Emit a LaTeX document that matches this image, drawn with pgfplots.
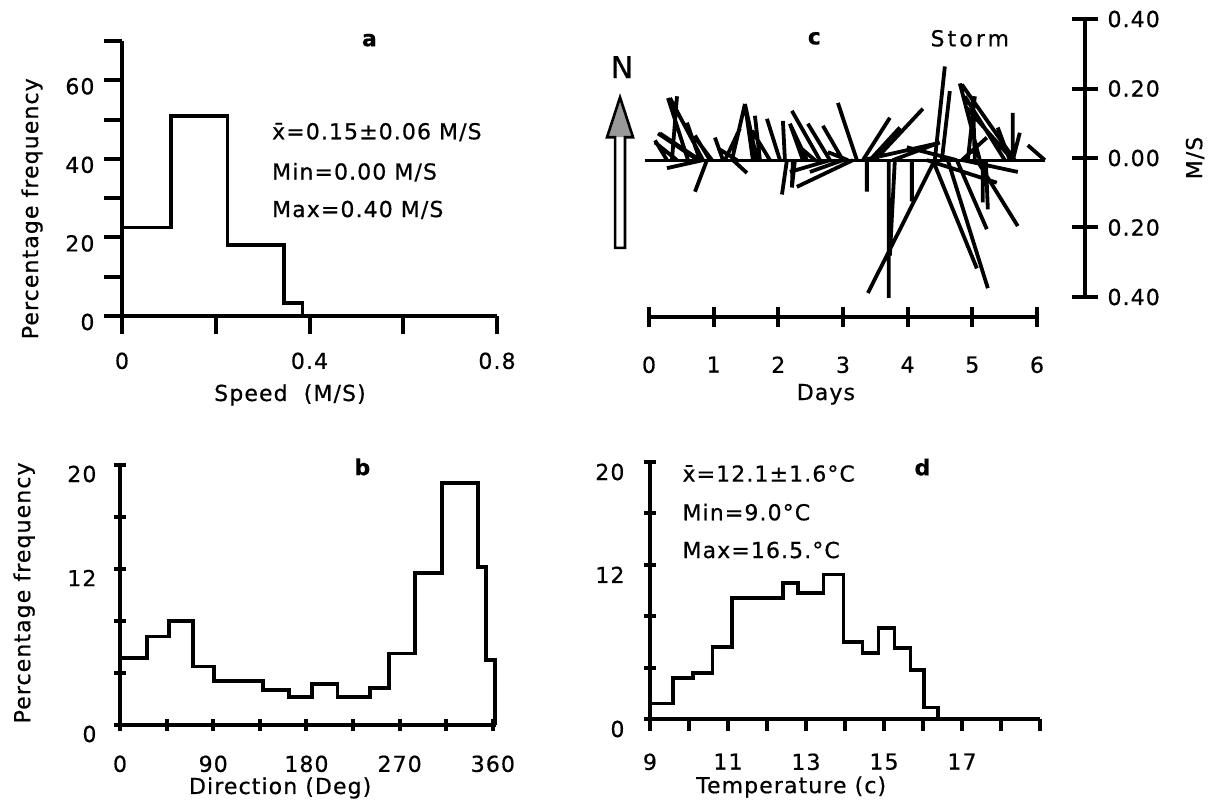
\documentclass[border=0pt]{standalone}
\usepackage{fontspec}
\setmainfont{DejaVu Sans}[LetterSpace=5, FakeBold=0.6]
\usepackage{pgfplots}
\pgfplotsset{compat=1.18}

% 1 px of the reference = 0.5pt
\pgfplotsset{
  panel/.style={
    scale only axis, anchor=south west, clip=false,
    line width=2.2pt,
    axis x line=bottom, axis y line=left,
    axis line style={-, line width=2.2pt},
    every outer x axis line/.append style={-},
    every outer y axis line/.append style={-},
    tick style={black, line width=2pt},
    /pgf/number format/assume math mode=true,
  },
  hist/.style={black, line width=1.9pt, const plot mark left},
}

\begin{document}
\fontsize{11}{13}\selectfont
\begin{tikzpicture}
\path[use as bounding box] (0,0) rectangle (605.5pt,401pt);

% ---- a: speed histogram
\begin{axis}[panel, at={(61pt,243pt)}, width=187.5pt, height=137.5pt,
  xmin=0, xmax=0.8, ymin=0, ymax=70,
  xtick={0,0.2,0.4,0.6,0.8}, xticklabels={0,,0.4,,0.8},
  ytick={0,10,...,70}, yticklabels={0,,20,,40,,60,},
  xtick align=outside, ytick align=outside, major tick length=9pt,
  xticklabel style={yshift=-4.5pt}, yticklabel style={yshift=-3pt},
  xlabel={Speed~~(M/S)},
  xlabel style={at={(axis description cs:0.448,-0.287)}, anchor=center},
  ylabel={Percentage frequency},
  ylabel style={at={(axis description cs:-0.24,0.39)}, anchor=center},
]
\addplot[hist] coordinates {(0,0) (0,22.5) (0.105,51) (0.225,18) (0.345,3.3) (0.385,0) (0.8,0)};
\node[anchor=west] at (axis cs:0.30,46.8) {\=x=0.15±0.06 M/S};
\node[anchor=west] at (axis cs:0.30,36.6) {Min=0.00 M/S};
\node[anchor=west] at (axis cs:0.30,27.0) {Max=0.40 M/S};
\node at (axis cs:0.529,70.2) {\textbf{a}};
\end{axis}

% ---- b: direction histogram
\begin{axis}[panel, at={(60pt,38.5pt)}, width=188pt, height=130pt,
  xmin=0, xmax=363, ymin=0, ymax=20,
  xtick={0,45,...,360}, xticklabels={0,,90,,180,,270,,360},
  ytick={0,4,...,20}, yticklabels={0,,,12,,20},
  xtick align=center, ytick align=center, major tick length=6pt,
  xticklabel style={yshift=-7.5pt}, yticklabel style={yshift=-4.5pt, xshift=-4pt},
  xlabel={Direction (Deg)},
  xlabel style={at={(axis description cs:0.426,-0.242)}, anchor=center},
  ylabel={Percentage frequency},
  ylabel style={at={(axis description cs:-0.255,0.508)}, anchor=center},
]
\addplot[hist] coordinates {(0,0) (0,5.15) (26,6.8) (47,8.0) (70.5,4.5) (91,3.4)
  (138,2.7) (163,2.15) (185,3.15) (210,2.15) (241,2.85) (260,5.5) (285,11.7)
  (311,18.6) (345.5,12.15) (353,5.0) (362,0)};
\node at (axis cs:234.5,19.85) {\textbf{b}};
\end{axis}

% ---- c: current vectors (stick plot)
\begin{axis}[panel, at={(324.5pt,242.5pt)}, width=194pt, height=156.5pt,
  xmin=0, xmax=6, ymin=-0.452, ymax=0.45,
  axis y line=none,
  xtick={0,...,6}, xticklabels={0,1,2,3,4,5,6},
  xtick align=center, major tick length=10pt,
  xticklabel style={yshift=-10pt},
  unbounded coords=jump,
  xlabel={Days},
  xlabel style={at={(axis description cs:0.456,-0.247)}, anchor=center},
]
\addplot[black, line width=1.5pt] coordinates {(-0.062,0) (6.121,0)};
\addplot[black, line width=1.9pt] table[row sep=\\] {
x y\\
0.278 0\\ 0.093 0.057\\ nan nan\\
0.788 0\\ 0.170 0.077\\ nan nan\\
0.757 0\\ 0.139 0.077\\ nan nan\\
0.433 0\\ 0.093 0.051\\ nan nan\\
0.603 0\\ 0.294 0.179\\ nan nan\\
0.835 0\\ 0.325 0.179\\ nan nan\\
0.355 0\\ 0.433 0.184\\ nan nan\\
0.788 0\\ 0.587 0.108\\ nan nan\\
0.943 0\\ 0.711 0.071\\ nan nan\\
0.974 0\\ 0.711 0.065\\ nan nan\\
0.835 0\\ 0.278 -0.023\\ nan nan\\
0.896 0\\ 0.711 -0.091\\ nan nan\\
1.144 0\\ 1.020 0.065\\ nan nan\\
1.283 0\\ 1.484 0.162\\ nan nan\\
1.669 0\\ 1.484 0.162\\ nan nan\\
1.607 0\\ 1.484 0.162\\ nan nan\\
1.298 0\\ 1.515 -0.037\\ nan nan\\
1.360 0\\ 1.066 0.034\\ nan nan\\
1.175 0\\ 1.406 0.091\\ nan nan\\
1.716 0\\ 1.638 0.128\\ nan nan\\
1.870 0\\ 1.592 0.085\\ nan nan\\
2.025 0\\ 1.824 0.119\\ nan nan\\
2.102 0\\ 2.071 0.113\\ nan nan\\
2.133 0\\ 2.056 -0.099\\ nan nan\\
2.643 0\\ 2.210 0.142\\ nan nan\\
2.442 0\\ 2.179 0.105\\ nan nan\\
2.380 0\\ 2.179 0.105\\ nan nan\\
2.798 0\\ 2.457 0.105\\ nan nan\\
2.998 0\\ 2.689 0.099\\ nan nan\\
2.257 0\\ 2.210 -0.079\\ nan nan\\
2.226 0\\ 2.210 -0.077\\ nan nan\\
3.153 0\\ 2.287 -0.077\\ nan nan\\
2.798 0\\ 2.179 -0.034\\ nan nan\\
2.998 0\\ 2.488 -0.034\\ nan nan\\
2.566 0\\ 2.334 0.037\\ nan nan\\
3.076 0\\ 2.767 0.023\\ nan nan\\
3.215 0\\ 2.921 0.165\\ nan nan\\
3.369 0\\ 3.369 -0.091\\ nan nan\\
3.308 0\\ 3.725 0.122\\ nan nan\\
3.308 0\\ 4.451 0.048\\ nan nan\\
3.709 0\\ 3.709 -0.397\\ nan nan\\
3.493 0\\ 4.235 0.148\\ nan nan\\
3.416 0\\ 3.879 0.094\\ nan nan\\
3.802 0\\ 3.725 -0.275\\ nan nan\\
3.771 0\\ 4.498 0.051\\ nan nan\\
4.065 0\\ 4.065 -0.119\\ nan nan\\
4.297 0\\ 5.379 -0.065\\ nan nan\\
4.420 0\\ 3.385 -0.383\\ nan nan\\
4.420 0\\ 4.575 0.270\\ nan nan\\
4.529 0\\ 4.652 0.199\\ nan nan\\
5.657 0\\ 4.838 0.218\\ nan nan\\
5.116 0\\ 4.807 0.221\\ nan nan\\
5.502 0\\ 4.884 0.184\\ nan nan\\
5.039 0\\ 5.008 0.184\\ nan nan\\
4.930 0\\ 5.039 0.184\\ nan nan\\
4.389 0\\ 5.070 -0.312\\ nan nan\\
4.621 0\\ 5.240 -0.369\\ nan nan\\
4.760 0\\ 5.224 -0.199\\ nan nan\\
5.070 0\\ 5.703 -0.190\\ nan nan\\
5.162 0\\ 5.162 -0.122\\ nan nan\\
5.209 0\\ 5.240 -0.142\\ nan nan\\
4.853 0\\ 5.703 -0.034\\ nan nan\\
5.626 0\\ 5.626 0.136\\ nan nan\\
5.580 0\\ 5.394 0.094\\ nan nan\\
5.626 0\\ 5.734 0.079\\ nan nan\\
6.121 0\\ 5.858 0.043\\ nan nan\\
5.626 0\\ 4.915 0.150\\ nan nan\\
4.838 0\\ 5.224 0.065\\ nan nan\\
4.760 0\\ 3.988 0.037\\
};
% north arrow
\fill[black!40] (axis cs:-0.448,0.181) -- (axis cs:-0.649,0.066) -- (axis cs:-0.247,0.066) -- cycle;
\draw[line width=1.3pt, line join=miter] (axis cs:-0.448,0.181) -- (axis cs:-0.649,0.066)
  -- (axis cs:-0.525,0.066) -- (axis cs:-0.525,-0.253) -- (axis cs:-0.371,-0.253)
  -- (axis cs:-0.371,0.066) -- (axis cs:-0.247,0.066) -- cycle;
\node at (axis cs:-0.417,0.268) {\fontsize{15}{17}\selectfont N};
\node at (axis cs:2.566,0.351) {\textbf{c}};
\node at (axis cs:4.961,0.351) {\addfontfeatures{LetterSpace=14}Storm};
\end{axis}

% right-hand speed scale of c
\begin{axis}[scale only axis, at={(542.5pt,252.5pt)}, anchor=south east,
  width=1pt, height=139pt, xmin=0, xmax=1, ymin=-0.4, ymax=0.4,
  line width=2.2pt,
  axis x line=none, axis y line=right, clip=false,
  axis line style={-, line width=2.2pt},
  every outer y axis line/.append style={-},
  tick style={black, line width=2pt},
  /pgf/number format/assume math mode=true,
  ytick={-0.4,-0.2,0,0.2,0.4}, yticklabels={0.40,0.20,0.00,0.20,0.40},
  ytick align=center, major tick length=13pt,
  ylabel={M/S},
  ylabel style={at={(axis description cs:1,0.5)}, anchor=center, yshift=-55pt},
]
\addplot[draw=none] coordinates {(0,0)};
\end{axis}

% ---- d: temperature histogram
\begin{axis}[panel, at={(325pt,41.5pt)}, width=195pt, height=128.5pt,
  xmin=9, xmax=19, ymin=0, ymax=20,
  xtick={9,...,19}, xticklabels={9,,11,,13,,15,,17,,},
  ytick={0,4,...,20}, yticklabels={0,,,12,,20},
  xtick align=outside, ytick align=center, major tick length=6pt,
  xticklabel style={yshift=-6.5pt}, yticklabel style={yshift=-5pt, xshift=-5pt},
  xlabel={Temperature (c)},
  xlabel style={at={(axis description cs:0.362,-0.265)}, anchor=center},
]
\addplot[hist] coordinates {(9,0) (9,1.2) (9.59,3.2) (10.1,3.6) (10.6,5.6) (11.1,9.4)
  (12.4,10.6) (12.8,9.8) (13.45,11.25) (13.96,6.0) (14.45,5.15) (14.86,7.1)
  (15.27,5.5) (15.68,3.8) (16.02,0.9) (16.38,0) (19,0)};
\node[anchor=west] at (axis cs:9.59,19.1) {\=x=12.1±1.6°C};
\node[anchor=west] at (axis cs:9.59,16.1) {Min=9.0°C};
\node[anchor=west] at (axis cs:9.59,13.15) {Max=16.5.°C};
\node at (axis cs:16.0,19.6) {\textbf{d}};
\end{axis}
\end{tikzpicture}
\end{document}
